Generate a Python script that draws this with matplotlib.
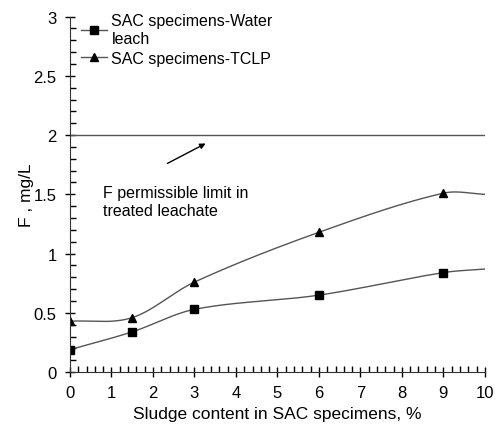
import numpy as np
import matplotlib.pyplot as plt
from matplotlib.ticker import MultipleLocator

plt.rcParams['font.family'] = ['Liberation Sans', 'DejaVu Sans']

# data (last point at x=10 is the end of the curve, no marker)
sludge = [0, 1.5, 3, 6, 9, 10]
water_leach = [0.19, 0.34, 0.53, 0.65, 0.84, 0.87]
tclp = [0.43, 0.46, 0.76, 1.18, 1.51, 1.50]
limit = 2.0

def smooth(x, y, n=40):
    # cubic hermite through the points, tangents from neighbours (smoothed line look)
    x = np.asarray(x, float)
    y = np.asarray(y, float)
    m = np.empty_like(y)
    m[1:-1] = (y[2:] - y[:-2]) / (x[2:] - x[:-2])
    m[0] = (y[1] - y[0]) / (x[1] - x[0])
    m[-1] = (y[-1] - y[-2]) / (x[-1] - x[-2])
    xs, ys = [], []
    t = np.linspace(0, 1, n)
    for i in range(len(x) - 1):
        h = x[i + 1] - x[i]
        h00 = 2 * t**3 - 3 * t**2 + 1
        h10 = t**3 - 2 * t**2 + t
        h01 = -2 * t**3 + 3 * t**2
        h11 = t**3 - t**2
        xs.extend(x[i] + t * h)
        ys.extend(h00 * y[i] + h10 * h * m[i] + h01 * y[i + 1] + h11 * h * m[i + 1])
    return np.array(xs), np.array(ys)

fig = plt.figure(figsize=(5.03, 4.27), dpi=100)
ax = fig.add_axes([0.139, 0.126, 0.825, 0.833])

lc = '#555555'
for y, m, lab in [(water_leach, 's', 'SAC specimens-Water\nleach'),
                  (tclp, '^', 'SAC specimens-TCLP')]:
    sx, sy = smooth(sludge, y)
    ax.plot(sx, sy, color=lc, lw=1.0)
    ax.plot(sludge[:-1], y[:-1], ls='none', marker=m, color='black', ms=6)
    ax.plot([], [], color=lc, lw=1.0, marker=m, mfc='black', mec='black', ms=6, label=lab)

ax.plot([0, 10], [limit, limit], color=lc, lw=1.0)
ax.annotate('', xy=(3.33, 1.94), xytext=(2.29, 1.75),
            arrowprops=dict(arrowstyle='-|>', color='black', lw=1.0, mutation_scale=8))
ax.text(0.8, 1.44, 'F permissible limit in\ntreated leachate', fontsize=11.5,
        va='center', ha='left', linespacing=1.3)

ax.set_xlim(0, 10)
ax.set_ylim(0, 3)
ax.xaxis.set_major_locator(MultipleLocator(1))
ax.xaxis.set_minor_locator(MultipleLocator(0.2))
ax.yaxis.set_minor_locator(MultipleLocator(0.1))
ax.set_yticks(np.arange(0, 3.01, 0.5))
ax.set_yticklabels(['0', '0.5', '1', '1.5', '2', '2.5', '3'])
ax.tick_params(which='major', direction='inout', length=7, width=1, labelsize=12, pad=6)
ax.tick_params(which='minor', direction='in', length=4, width=1)
for s in ['top', 'right']:
    ax.spines[s].set_visible(False)
for s in ['left', 'bottom']:
    ax.spines[s].set_color('#333333')

ax.set_xlabel('Sludge content in SAC specimens, %', fontsize=12.5, labelpad=4)
ax.set_ylabel('F , mg/L', fontsize=12.5, labelpad=0)

ax.legend(loc='upper left', bbox_to_anchor=(0.0, 1.04), frameon=False, fontsize=11.5,
          handlelength=1.6, handletextpad=0.3, labelspacing=0.3, borderaxespad=0.3)

fig.savefig('out.png', dpi=100)
